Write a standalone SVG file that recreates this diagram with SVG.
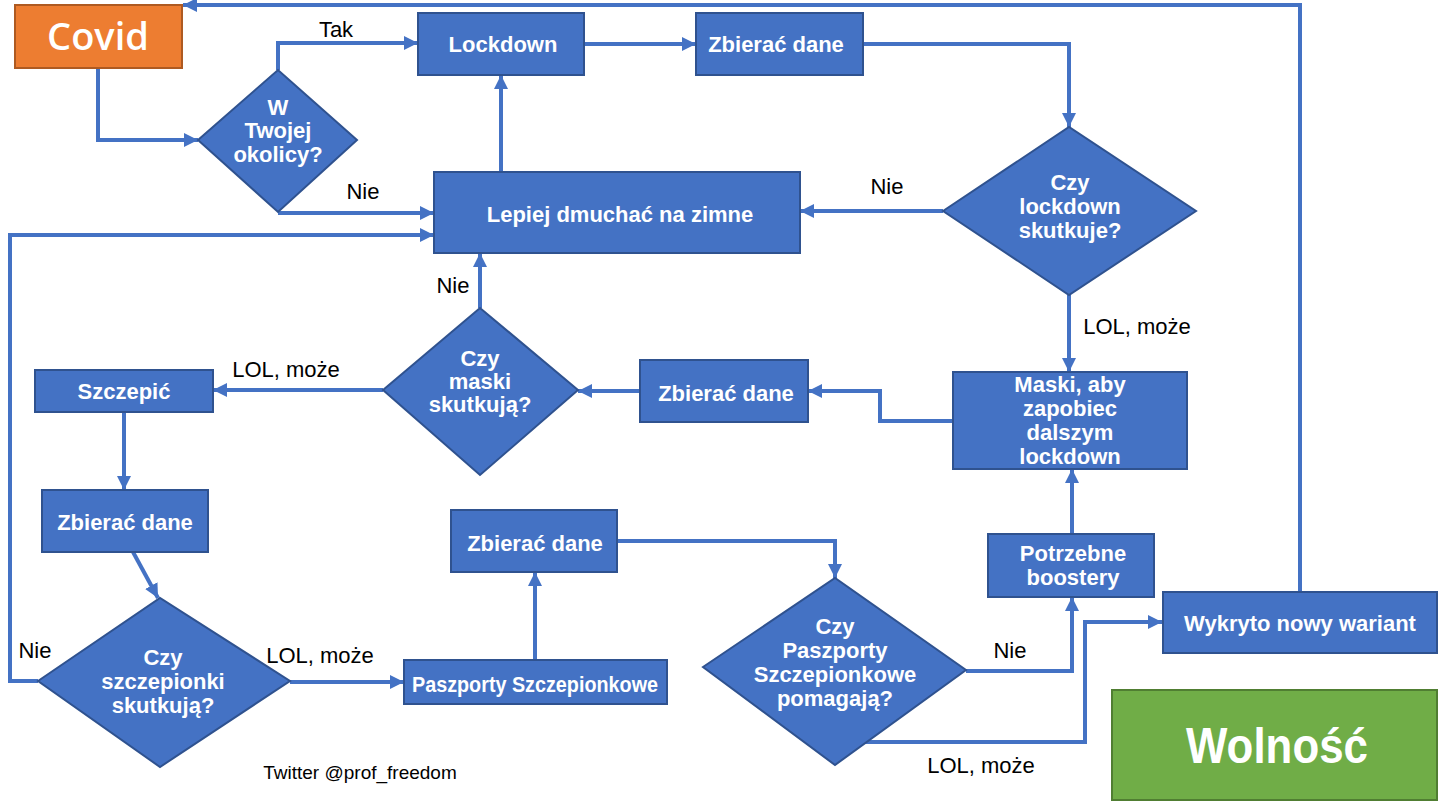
<svg xmlns="http://www.w3.org/2000/svg" width="1444" height="808" viewBox="0 0 1444 808">
<defs>
<marker id="ah" viewBox="0 0 10 10" refX="10" refY="5" markerWidth="14" markerHeight="14" markerUnits="userSpaceOnUse" orient="auto">
<path d="M0,0 L10,5 L0,10 z" fill="#4472C4"/>
</marker>
<style>
.b{fill:#4472C4;stroke:#2F528F;stroke-width:2}
.t{fill:#fff;font-family:"Liberation Sans Narrow","Liberation Sans",Arial,sans-serif;font-weight:bold;font-size:22px;text-anchor:middle}
.c{fill:none;stroke:#4472C4;stroke-width:4;marker-end:url(#ah)}
.l{fill:#000;font-family:"Liberation Sans Narrow","Liberation Sans",Arial,sans-serif;font-size:22px}
</style>
</defs>
<rect width="1444" height="808" fill="#fff"/>
<g id="connectors">
<path class="c" d="M98,68 V140 H198"/>
<path class="c" d="M278,70 V43 H418"/>
<path class="c" d="M278,213 H434"/>
<path class="c" d="M584,44 H696"/>
<path class="c" d="M863,44 H1069 V127"/>
<path class="c" d="M943,211 H800"/>
<path class="c" d="M501,172 V75"/>
<path class="c" d="M1069,295 V372"/>
<path class="c" d="M953,421 H880 V391 H808"/>
<path class="c" d="M640,391 H578"/>
<path class="c" d="M480,308 V253"/>
<path class="c" d="M383,390 H213"/>
<path class="c" d="M124,412 V490"/>
<path class="c" d="M133,552 L158,598"/>
<path class="c" d="M38,681 H10 V235 H434"/>
<path class="c" d="M290,682 H404"/>
<path class="c" d="M535,660 V572"/>
<path class="c" d="M617,541 H835 V578"/>
<path class="c" d="M966,671 H1072 V597"/>
<path class="c" d="M862,742 H1085 V622 H1162"/>
<path class="c" d="M1072,534 V469"/>
<path class="c" d="M1300,592 V5 H183"/>
<text class="l" x="336" y="37" text-anchor="middle">Tak</text>
<text class="l" x="363" y="199" text-anchor="middle">Nie</text>
<text class="l" x="887" y="194" text-anchor="middle">Nie</text>
<text class="l" x="1137" y="334" text-anchor="middle">LOL, może</text>
<text class="l" x="453" y="293" text-anchor="middle">Nie</text>
<text class="l" x="286" y="377" text-anchor="middle">LOL, może</text>
<text class="l" x="35" y="658" text-anchor="middle">Nie</text>
<text class="l" x="320" y="663" text-anchor="middle">LOL, może</text>
<text class="l" x="1010" y="658" text-anchor="middle">Nie</text>
<text class="l" x="981" y="773" text-anchor="middle">LOL, może</text>
</g>
<g id="covid">
<rect x="15" y="5" width="167" height="63" fill="#ED7D31" stroke="#AE5A21" stroke-width="2"/>
<text x="98" y="50" fill="#fff" font-family="'Open Sans',sans-serif" font-weight="600" font-size="38" text-anchor="middle">Covid</text>
</g>
<g id="d1">
<polygon class="b" points="198,140 278,70 357,140 278,212"/>
<text class="t" font-size="20"><tspan x="278" y="115">W</tspan><tspan x="278" y="138">Twojej</tspan><tspan x="278" y="162">okolicy?</tspan></text>
</g>
<g id="lockdown">
<rect class="b" x="418" y="13" width="166" height="62"/>
<text class="t" x="503" y="52">Lockdown</text>
</g>
<g id="zbierac1">
<rect class="b" x="696" y="13" width="167" height="62"/>
<text class="t" x="776" y="52">Zbierać dane</text>
</g>
<g id="d2">
<polygon class="b" points="943,211 1069,127 1196,211 1069,295"/>
<text class="t" font-size="21"><tspan x="1070" y="190">Czy</tspan><tspan x="1070" y="214">lockdown</tspan><tspan x="1070" y="238">skutkuje?</tspan></text>
</g>
<g id="lepiej">
<rect class="b" x="434" y="172" width="366" height="81"/>
<text class="t" x="620" y="222">Lepiej dmuchać na zimne</text>
</g>
<g id="maski">
<rect class="b" x="953" y="372" width="234" height="97"/>
<text class="t"><tspan x="1070" y="392">Maski, aby</tspan><tspan x="1070" y="416">zapobiec</tspan><tspan x="1070" y="440">dalszym</tspan><tspan x="1070" y="464">lockdown</tspan></text>
</g>
<g id="zbierac2">
<rect class="b" x="640" y="360" width="168" height="62"/>
<text class="t" x="726" y="401">Zbierać dane</text>
</g>
<g id="d3">
<polygon class="b" points="383,390 480,308 578,390 480,475"/>
<text class="t" font-size="20"><tspan x="480" y="366">Czy</tspan><tspan x="480" y="389">maski</tspan><tspan x="480" y="412">skutkują?</tspan></text>
</g>
<g id="szczepic">
<rect class="b" x="35" y="370" width="178" height="42"/>
<text class="t" x="124" y="399">Szczepić</text>
</g>
<g id="zbierac3">
<rect class="b" x="42" y="490" width="166" height="62"/>
<text class="t" x="125" y="530">Zbierać dane</text>
</g>
<g id="d4">
<polygon class="b" points="38,681 160,598 290,681 160,767"/>
<text class="t" font-size="21"><tspan x="163" y="665">Czy</tspan><tspan x="163" y="689">szczepionki</tspan><tspan x="163" y="713">skutkują?</tspan></text>
</g>
<g id="paszporty">
<rect class="b" x="404" y="660" width="263" height="44"/>
<text class="t" x="535" y="692" font-size="21" textLength="246" lengthAdjust="spacingAndGlyphs">Paszporty Szczepionkowe</text>
</g>
<g id="zbierac4">
<rect class="b" x="451" y="510" width="166" height="62"/>
<text class="t" x="535" y="551">Zbierać dane</text>
</g>
<g id="d5">
<polygon class="b" points="703,667 835,578 966,670 835,765"/>
<text class="t" font-size="21"><tspan x="835" y="634">Czy</tspan><tspan x="835" y="658">Paszporty</tspan><tspan x="835" y="682">Szczepionkowe</tspan><tspan x="835" y="706">pomagają?</tspan></text>
</g>
<g id="potrzebne">
<rect class="b" x="988" y="534" width="166" height="63"/>
<text class="t"><tspan x="1073" y="561">Potrzebne</tspan><tspan x="1073" y="585">boostery</tspan></text>
</g>
<g id="wykryto">
<rect class="b" x="1163" y="592" width="274" height="61"/>
<text class="t" x="1300" y="631">Wykryto nowy wariant</text>
</g>
<g id="wolnosc">
<rect x="1112" y="690" width="325" height="110" fill="#70AD47" stroke="#507E32" stroke-width="2"/>
<text x="1277" y="763" fill="#fff" font-family="'Liberation Sans Narrow','Liberation Sans',Arial,sans-serif" font-weight="bold" font-size="50" text-anchor="middle" textLength="182" lengthAdjust="spacingAndGlyphs">Wolność</text>
</g>
<g id="credit">
<text x="360" y="779" fill="#000" font-family="'Liberation Sans Narrow','Liberation Sans',Arial,sans-serif" font-size="19" text-anchor="middle">Twitter @prof_freedom</text>
</g>
</svg>
